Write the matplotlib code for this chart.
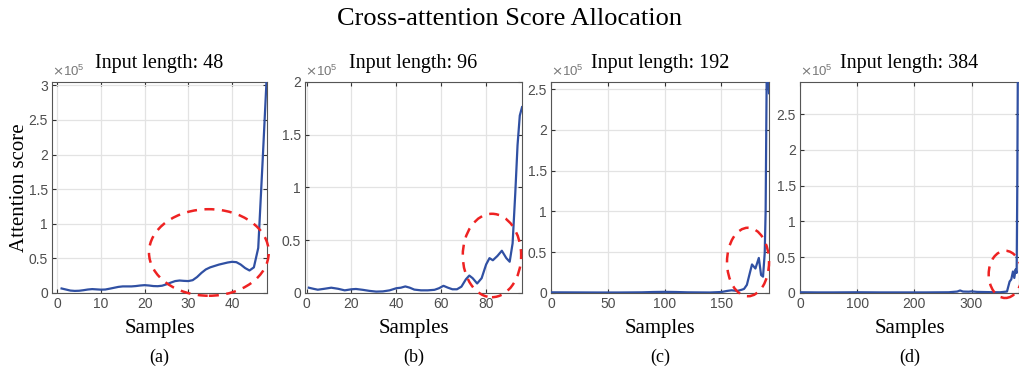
import numpy as np
import matplotlib
matplotlib.use('Agg')
import matplotlib.pyplot as plt
from matplotlib.patches import Ellipse
from matplotlib.ticker import FuncFormatter

# attention scores, in units of 1e5
x48 = list(range(1, 49))
y48 = [0.065, 0.05, 0.035, 0.03, 0.032, 0.04, 0.05, 0.056, 0.052, 0.048,
       0.05, 0.062, 0.075, 0.088, 0.095, 0.095, 0.095, 0.1, 0.108, 0.113,
       0.108, 0.1, 0.098, 0.105, 0.125, 0.15, 0.172, 0.18, 0.175, 0.172,
       0.185, 0.23, 0.29, 0.34, 0.37, 0.39, 0.41, 0.425, 0.44, 0.45,
       0.445, 0.41, 0.36, 0.325, 0.37, 0.65, 1.9, 3.2]

x96 = [1, 3, 5, 8, 11, 14, 17, 20, 22, 25, 28, 31, 34, 37, 40, 42, 44, 46, 48,
       51, 54, 57, 59, 61, 63, 65, 67, 69, 71, 72.5, 74, 76, 78, 80, 81.5, 83,
       85, 87, 89, 90.5, 91.8, 93, 94, 95, 96]
y96 = [0.05, 0.04, 0.031, 0.04, 0.05, 0.04, 0.025, 0.035, 0.038, 0.03, 0.02,
       0.013, 0.015, 0.025, 0.045, 0.05, 0.062, 0.05, 0.032, 0.025, 0.025,
       0.03, 0.045, 0.068, 0.05, 0.035, 0.035, 0.06, 0.13, 0.165, 0.14, 0.09,
       0.14, 0.27, 0.33, 0.31, 0.35, 0.40, 0.33, 0.296, 0.47, 0.95, 1.4, 1.68,
       1.76]

x192 = [0, 20, 40, 60, 80, 90, 100, 110, 120, 140, 150, 155, 159, 164, 168,
        170, 172.5, 175, 177, 180, 183, 185, 186.7, 188.2, 189, 190, 191, 192]
y192 = [0.008, 0.007, 0.006, 0.006, 0.008, 0.012, 0.014, 0.012, 0.008, 0.006,
        0.012, 0.025, 0.033, 0.025, 0.04, 0.05, 0.1, 0.24, 0.35, 0.30, 0.43,
        0.22, 0.2, 0.49, 1.0, 2.8, 2.75, 2.45]

x384 = [0, 30, 60, 100, 140, 180, 220, 260, 275, 280, 285, 295, 300, 310, 330,
        350, 362, 366.6, 369.5, 372.4, 374.8, 377, 378.9, 380, 381, 384]
y384 = [0.01, 0.008, 0.008, 0.01, 0.008, 0.008, 0.008, 0.01, 0.02, 0.035,
        0.02, 0.018, 0.022, 0.015, 0.012, 0.01, 0.02, 0.16, 0.19, 0.30, 0.21,
        0.33, 0.28, 1.5, 3.2, 3.2]

lengths = [48, 96, 192, 384]
series = [(x48, y48), (x96, y96), (x192, y192), (x384, y384)]
letters = ['(a)', '(b)', '(c)', '(d)']

xlims = [(-1.2, 48), (-0.7, 96), (0, 192), (0, 383)]
ylims = [3.05, 2.0, 2.59, 2.95]
xticks = [np.arange(0, 41, 10), np.arange(0, 81, 20), np.arange(0, 151, 50), np.arange(0, 301, 100)]
yticks = [np.arange(0, 3.01, 0.5), np.arange(0, 2.01, 0.5), np.arange(0, 2.51, 0.5), np.arange(0, 2.51, 0.5)]
# highlighted regions: (center x, center y, width, height)
circles = [(34.7, 0.585, 27.4, 1.25), (82.6, 0.355, 26, 0.79),
           (173.5, 0.38, 37, 0.84), (359, 0.26, 58, 0.66)]

serif = 'Liberation Serif'
sans = 'Liberation Sans'
gray = '#4d4d4d'

fig = plt.figure(figsize=(10.19, 3.66), dpi=100)
lefts = [0.051, 0.2993, 0.5407, 0.785]
widths = [0.211, 0.213, 0.214, 0.215]

for i in range(4):
    ax = fig.add_axes([lefts[i], 0.1995, widths[i], 0.577])
    xs, ys = series[i]
    ax.plot(xs, ys, color='#3050a3', lw=1.6, zorder=3)
    ax.set_xlim(*xlims[i])
    ax.set_ylim(0, ylims[i])
    ax.set_xticks(xticks[i])
    ax.set_yticks(yticks[i])
    ax.yaxis.set_major_formatter(FuncFormatter(lambda v, p: '%g' % v))
    ax.grid(True, color='#e3e3e3', lw=0.9)
    ax.set_axisbelow(True)
    ax.tick_params(direction='in', length=3, width=0.8, color='#333333',
                   labelcolor=gray, labelsize=10, top=True, right=True, pad=3)
    for lab in ax.get_xticklabels() + ax.get_yticklabels():
        lab.set_fontfamily(sans)
    for s in ax.spines.values():
        s.set_color('#555555')
        s.set_linewidth(0.8)

    cx, cy, w, h = circles[i]
    ax.add_patch(Ellipse((cx, cy), w, h, fill=False, ec='#ee2222', lw=1.8,
                         ls=(0, (4, 3)), clip_on=False, zorder=4))

    ax.set_title('Input length: %d' % lengths[i], family=serif, fontsize=14.5, pad=10)
    ax.set_xlabel('Samples', family=serif, fontsize=15, labelpad=6)
    ax.text(0.5, -0.305, letters[i], transform=ax.transAxes, ha='center',
            va='center', family=serif, fontsize=13)
    ax.text(0.0, 1.012, r'$\times\mathregular{10^5}$', transform=ax.transAxes,
            ha='left', va='bottom', fontsize=9.5, color='#777777', family=sans)
    if i == 0:
        ax.set_ylabel('Attention score', family=serif, fontsize=15, labelpad=-0.5)

fig.text(0.5, 0.948, 'Cross-attention Score Allocation', ha='center', va='center',
         family=serif, fontsize=19)

fig.savefig('out.png', dpi=100)
